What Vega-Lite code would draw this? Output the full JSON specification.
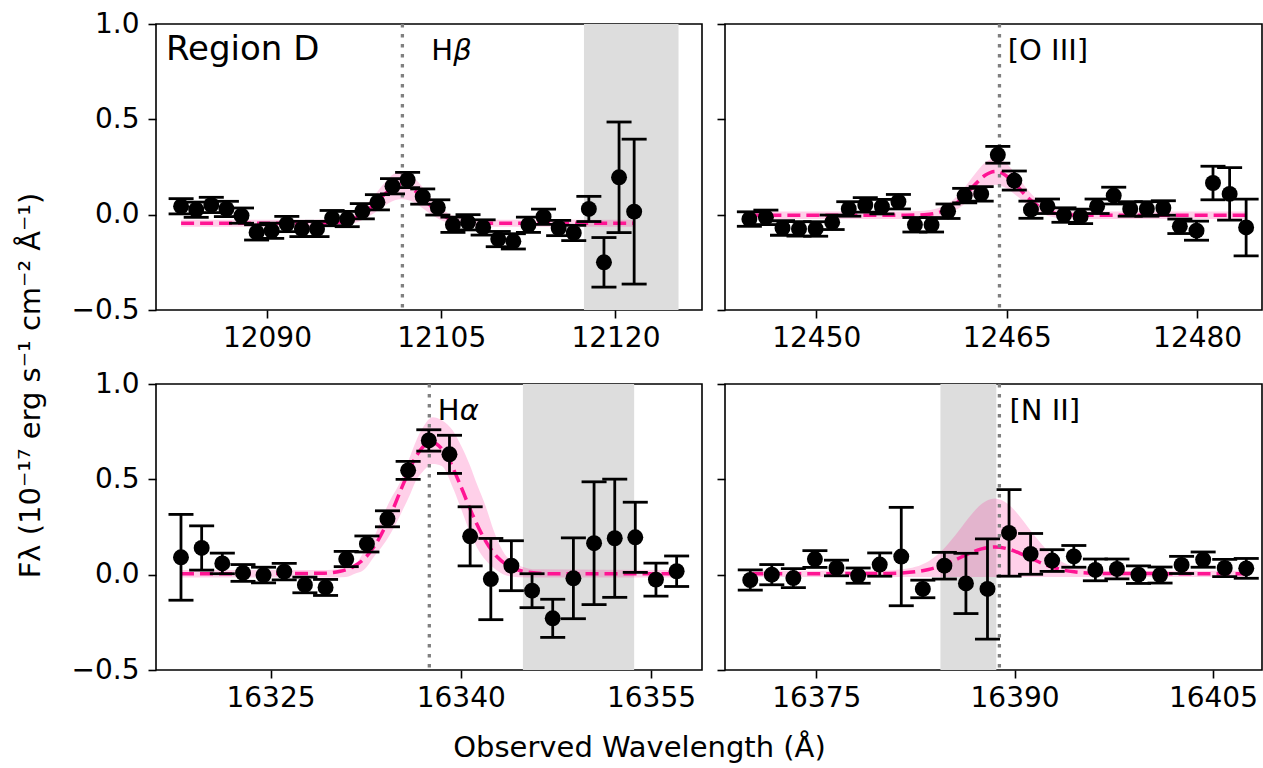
{
  "$schema": "https://vega.github.io/schema/vega-lite/v6.json",
  "background": "white",
  "padding": {"left": 15, "top": 9, "right": 0, "bottom": 0},
  "config": {
    "font": "DejaVu Sans",
    "view": {"stroke": "#000000", "strokeWidth": 1.6},
    "axis": {"grid": false, "domain": false, "ticks": true, "tickColor": "#000000", "tickWidth": 1.6, "tickSize": 8, "labelFont": "DejaVu Sans", "labelFontSize": 28, "labelColor": "#000000", "labelFlush": false, "labelOverlap": false, "titleFont": "DejaVu Sans", "titleFontSize": 29, "titleColor": "#000000", "titleFontWeight": "normal"},
    "axisX": {"labelPadding": 6},
    "axisY": {"labelPadding": 9}
  },
  "datasets": {
    "pts": [
      {"p":"hb","x":12082.61,"y":0.044,"lo":0.004,"hi":0.084},
      {"p":"hb","x":12083.91,"y":0.026,"lo":-0.014,"hi":0.066},
      {"p":"hb","x":12085.21,"y":0.051,"lo":0.011,"hi":0.091},
      {"p":"hb","x":12086.51,"y":0.030,"lo":-0.010,"hi":0.070},
      {"p":"hb","x":12087.81,"y":-0.005,"lo":-0.045,"hi":0.035},
      {"p":"hb","x":12089.11,"y":-0.093,"lo":-0.133,"hi":-0.053},
      {"p":"hb","x":12090.41,"y":-0.084,"lo":-0.124,"hi":-0.044},
      {"p":"hb","x":12091.71,"y":-0.049,"lo":-0.089,"hi":-0.009},
      {"p":"hb","x":12093.01,"y":-0.075,"lo":-0.115,"hi":-0.035},
      {"p":"hb","x":12094.31,"y":-0.075,"lo":-0.115,"hi":-0.035},
      {"p":"hb","x":12095.61,"y":-0.018,"lo":-0.058,"hi":0.022},
      {"p":"hb","x":12096.91,"y":-0.023,"lo":-0.063,"hi":0.017},
      {"p":"hb","x":12098.21,"y":0.018,"lo":-0.022,"hi":0.058},
      {"p":"hb","x":12099.51,"y":0.065,"lo":0.025,"hi":0.105},
      {"p":"hb","x":12100.81,"y":0.149,"lo":0.109,"hi":0.189},
      {"p":"hb","x":12102.11,"y":0.182,"lo":0.142,"hi":0.222},
      {"p":"hb","x":12103.41,"y":0.095,"lo":0.055,"hi":0.135},
      {"p":"hb","x":12104.71,"y":0.038,"lo":-0.002,"hi":0.078},
      {"p":"hb","x":12106.01,"y":-0.053,"lo":-0.093,"hi":-0.013},
      {"p":"hb","x":12107.31,"y":-0.040,"lo":-0.080,"hi":0.000},
      {"p":"hb","x":12108.61,"y":-0.067,"lo":-0.107,"hi":-0.027},
      {"p":"hb","x":12109.91,"y":-0.128,"lo":-0.168,"hi":-0.088},
      {"p":"hb","x":12111.21,"y":-0.140,"lo":-0.180,"hi":-0.100},
      {"p":"hb","x":12112.51,"y":-0.053,"lo":-0.093,"hi":-0.013},
      {"p":"hb","x":12113.81,"y":-0.011,"lo":-0.051,"hi":0.029},
      {"p":"hb","x":12115.11,"y":-0.070,"lo":-0.110,"hi":-0.030},
      {"p":"hb","x":12116.41,"y":-0.096,"lo":-0.136,"hi":-0.056},
      {"p":"hb","x":12117.71,"y":0.030,"lo":-0.036,"hi":0.096},
      {"p":"hb","x":12119.01,"y":-0.250,"lo":-0.380,"hi":-0.120},
      {"p":"hb","x":12120.31,"y":0.196,"lo":-0.094,"hi":0.486},
      {"p":"hb","x":12121.61,"y":0.016,"lo":-0.364,"hi":0.396},

      {"p":"o3","x":12444.73,"y":-0.023,"lo":-0.061,"hi":0.015},
      {"p":"o3","x":12446.03,"y":-0.014,"lo":-0.052,"hi":0.024},
      {"p":"o3","x":12447.34,"y":-0.070,"lo":-0.108,"hi":-0.032},
      {"p":"o3","x":12448.64,"y":-0.075,"lo":-0.113,"hi":-0.037},
      {"p":"o3","x":12449.95,"y":-0.075,"lo":-0.113,"hi":-0.037},
      {"p":"o3","x":12451.25,"y":-0.040,"lo":-0.078,"hi":-0.002},
      {"p":"o3","x":12452.56,"y":0.030,"lo":-0.008,"hi":0.068},
      {"p":"o3","x":12453.86,"y":0.051,"lo":0.013,"hi":0.089},
      {"p":"o3","x":12455.17,"y":0.042,"lo":0.004,"hi":0.080},
      {"p":"o3","x":12456.47,"y":0.068,"lo":0.030,"hi":0.106},
      {"p":"o3","x":12457.77,"y":-0.053,"lo":-0.091,"hi":-0.015},
      {"p":"o3","x":12459.08,"y":-0.053,"lo":-0.091,"hi":-0.015},
      {"p":"o3","x":12460.38,"y":0.018,"lo":-0.020,"hi":0.056},
      {"p":"o3","x":12461.69,"y":0.100,"lo":0.062,"hi":0.138},
      {"p":"o3","x":12462.99,"y":0.109,"lo":0.071,"hi":0.147},
      {"p":"o3","x":12464.30,"y":0.314,"lo":0.270,"hi":0.358},
      {"p":"o3","x":12465.60,"y":0.179,"lo":0.129,"hi":0.229},
      {"p":"o3","x":12466.91,"y":0.026,"lo":-0.019,"hi":0.071},
      {"p":"o3","x":12468.21,"y":0.044,"lo":0.006,"hi":0.082},
      {"p":"o3","x":12469.51,"y":-0.002,"lo":-0.040,"hi":0.036},
      {"p":"o3","x":12470.82,"y":-0.009,"lo":-0.047,"hi":0.029},
      {"p":"o3","x":12472.12,"y":0.044,"lo":0.006,"hi":0.082},
      {"p":"o3","x":12473.43,"y":0.100,"lo":0.056,"hi":0.144},
      {"p":"o3","x":12474.73,"y":0.030,"lo":-0.008,"hi":0.068},
      {"p":"o3","x":12476.04,"y":0.030,"lo":-0.008,"hi":0.068},
      {"p":"o3","x":12477.34,"y":0.035,"lo":-0.003,"hi":0.073},
      {"p":"o3","x":12478.64,"y":-0.061,"lo":-0.099,"hi":-0.023},
      {"p":"o3","x":12479.95,"y":-0.084,"lo":-0.134,"hi":-0.034},
      {"p":"o3","x":12481.25,"y":0.166,"lo":0.078,"hi":0.254},
      {"p":"o3","x":12482.56,"y":0.109,"lo":-0.029,"hi":0.247},
      {"p":"o3","x":12483.86,"y":-0.067,"lo":-0.216,"hi":0.082},

      {"p":"ha","x":16317.94,"y":0.091,"lo":-0.134,"hi":0.316},
      {"p":"ha","x":16319.57,"y":0.140,"lo":0.024,"hi":0.256},
      {"p":"ha","x":16321.20,"y":0.059,"lo":0.005,"hi":0.113},
      {"p":"ha","x":16322.83,"y":0.009,"lo":-0.035,"hi":0.053},
      {"p":"ha","x":16324.45,"y":-0.002,"lo":-0.043,"hi":0.039},
      {"p":"ha","x":16326.08,"y":0.016,"lo":-0.027,"hi":0.059},
      {"p":"ha","x":16327.71,"y":-0.054,"lo":-0.095,"hi":-0.013},
      {"p":"ha","x":16329.34,"y":-0.067,"lo":-0.109,"hi":-0.025},
      {"p":"ha","x":16330.97,"y":0.082,"lo":0.042,"hi":0.122},
      {"p":"ha","x":16332.60,"y":0.161,"lo":0.119,"hi":0.203},
      {"p":"ha","x":16334.22,"y":0.293,"lo":0.251,"hi":0.335},
      {"p":"ha","x":16335.85,"y":0.547,"lo":0.500,"hi":0.594},
      {"p":"ha","x":16337.48,"y":0.704,"lo":0.648,"hi":0.760},
      {"p":"ha","x":16339.11,"y":0.631,"lo":0.531,"hi":0.731},
      {"p":"ha","x":16340.74,"y":0.201,"lo":0.046,"hi":0.356},
      {"p":"ha","x":16342.37,"y":-0.023,"lo":-0.236,"hi":0.190},
      {"p":"ha","x":16343.99,"y":0.047,"lo":-0.084,"hi":0.178},
      {"p":"ha","x":16345.62,"y":-0.084,"lo":-0.173,"hi":0.005},
      {"p":"ha","x":16347.25,"y":-0.229,"lo":-0.329,"hi":-0.129},
      {"p":"ha","x":16348.88,"y":-0.019,"lo":-0.231,"hi":0.193},
      {"p":"ha","x":16350.51,"y":0.165,"lo":-0.157,"hi":0.487},
      {"p":"ha","x":16352.14,"y":0.191,"lo":-0.119,"hi":0.501},
      {"p":"ha","x":16353.76,"y":0.196,"lo":0.012,"hi":0.380},
      {"p":"ha","x":16355.39,"y":-0.026,"lo":-0.113,"hi":0.061},
      {"p":"ha","x":16357.02,"y":0.018,"lo":-0.062,"hi":0.098},

      {"p":"n2","x":16370.01,"y":-0.028,"lo":-0.081,"hi":0.025},
      {"p":"n2","x":16371.64,"y":0.000,"lo":-0.053,"hi":0.053},
      {"p":"n2","x":16373.27,"y":-0.018,"lo":-0.068,"hi":0.032},
      {"p":"n2","x":16374.90,"y":0.082,"lo":0.038,"hi":0.126},
      {"p":"n2","x":16376.53,"y":0.035,"lo":-0.006,"hi":0.076},
      {"p":"n2","x":16378.17,"y":-0.005,"lo":-0.045,"hi":0.035},
      {"p":"n2","x":16379.80,"y":0.053,"lo":-0.008,"hi":0.114},
      {"p":"n2","x":16381.43,"y":0.095,"lo":-0.163,"hi":0.353},
      {"p":"n2","x":16383.06,"y":-0.075,"lo":-0.121,"hi":-0.029},
      {"p":"n2","x":16384.69,"y":0.047,"lo":-0.023,"hi":0.117},
      {"p":"n2","x":16386.32,"y":-0.046,"lo":-0.204,"hi":0.112},
      {"p":"n2","x":16387.95,"y":-0.075,"lo":-0.338,"hi":0.188},
      {"p":"n2","x":16389.58,"y":0.219,"lo":-0.008,"hi":0.446},
      {"p":"n2","x":16391.21,"y":0.109,"lo":0.002,"hi":0.216},
      {"p":"n2","x":16392.84,"y":0.074,"lo":0.017,"hi":0.131},
      {"p":"n2","x":16394.48,"y":0.096,"lo":0.039,"hi":0.153},
      {"p":"n2","x":16396.11,"y":0.025,"lo":-0.032,"hi":0.082},
      {"p":"n2","x":16397.74,"y":0.030,"lo":-0.022,"hi":0.082},
      {"p":"n2","x":16399.37,"y":0.000,"lo":-0.046,"hi":0.046},
      {"p":"n2","x":16401.00,"y":-0.002,"lo":-0.044,"hi":0.040},
      {"p":"n2","x":16402.63,"y":0.051,"lo":0.006,"hi":0.096},
      {"p":"n2","x":16404.26,"y":0.079,"lo":0.039,"hi":0.119},
      {"p":"n2","x":16405.89,"y":0.035,"lo":-0.010,"hi":0.080},
      {"p":"n2","x":16407.52,"y":0.033,"lo":-0.019,"hi":0.085}
    ],
    "fit": [
      {"p":"hb","x":12082.61,"y":-0.045},
      {"p":"hb","x":12094,"y":-0.045},
      {"p":"hb","x":12096,"y":-0.041},
      {"p":"hb","x":12097,"y":-0.031},
      {"p":"hb","x":12098,"y":-0.005},
      {"p":"hb","x":12099,"y":0.041},
      {"p":"hb","x":12100,"y":0.100},
      {"p":"hb","x":12101,"y":0.146},
      {"p":"hb","x":12101.6,"y":0.155},
      {"p":"hb","x":12102.2,"y":0.146},
      {"p":"hb","x":12103,"y":0.112},
      {"p":"hb","x":12104,"y":0.052},
      {"p":"hb","x":12105,"y":0.002},
      {"p":"hb","x":12106,"y":-0.027},
      {"p":"hb","x":12107,"y":-0.040},
      {"p":"hb","x":12108,"y":-0.044},
      {"p":"hb","x":12110,"y":-0.045},
      {"p":"hb","x":12121.61,"y":-0.045},

      {"p":"o3","x":12444.73,"y":-0.003},
      {"p":"o3","x":12457,"y":-0.003},
      {"p":"o3","x":12458.5,"y":0.000},
      {"p":"o3","x":12459.5,"y":0.009},
      {"p":"o3","x":12460.5,"y":0.035},
      {"p":"o3","x":12461.5,"y":0.087},
      {"p":"o3","x":12462.5,"y":0.158},
      {"p":"o3","x":12463.3,"y":0.207},
      {"p":"o3","x":12464.1,"y":0.227},
      {"p":"o3","x":12464.9,"y":0.207},
      {"p":"o3","x":12465.7,"y":0.158},
      {"p":"o3","x":12466.7,"y":0.087},
      {"p":"o3","x":12467.7,"y":0.035},
      {"p":"o3","x":12468.7,"y":0.009},
      {"p":"o3","x":12469.7,"y":0.000},
      {"p":"o3","x":12471,"y":-0.003},
      {"p":"o3","x":12483.86,"y":-0.003},

      {"p":"ha","x":16317.94,"y":0.005},
      {"p":"ha","x":16329,"y":0.007},
      {"p":"ha","x":16330.5,"y":0.018},
      {"p":"ha","x":16331.5,"y":0.041},
      {"p":"ha","x":16332.5,"y":0.091},
      {"p":"ha","x":16333.5,"y":0.183},
      {"p":"ha","x":16334.5,"y":0.319},
      {"p":"ha","x":16335.5,"y":0.480},
      {"p":"ha","x":16336.5,"y":0.623},
      {"p":"ha","x":16337.7,"y":0.695},
      {"p":"ha","x":16338.9,"y":0.623},
      {"p":"ha","x":16339.9,"y":0.480},
      {"p":"ha","x":16340.9,"y":0.319},
      {"p":"ha","x":16341.9,"y":0.183},
      {"p":"ha","x":16342.9,"y":0.091},
      {"p":"ha","x":16343.9,"y":0.041},
      {"p":"ha","x":16344.9,"y":0.018},
      {"p":"ha","x":16345.9,"y":0.009},
      {"p":"ha","x":16347,"y":0.005},
      {"p":"ha","x":16357.02,"y":0.005},

      {"p":"n2","x":16370.01,"y":0.005},
      {"p":"n2","x":16380,"y":0.006},
      {"p":"n2","x":16381.5,"y":0.009},
      {"p":"n2","x":16382.5,"y":0.015},
      {"p":"n2","x":16383.5,"y":0.027},
      {"p":"n2","x":16384.5,"y":0.048},
      {"p":"n2","x":16385.5,"y":0.077},
      {"p":"n2","x":16386.5,"y":0.109},
      {"p":"n2","x":16387.5,"y":0.135},
      {"p":"n2","x":16388.5,"y":0.145},
      {"p":"n2","x":16389.5,"y":0.135},
      {"p":"n2","x":16390.5,"y":0.109},
      {"p":"n2","x":16391.5,"y":0.077},
      {"p":"n2","x":16392.5,"y":0.048},
      {"p":"n2","x":16393.5,"y":0.027},
      {"p":"n2","x":16394.5,"y":0.015},
      {"p":"n2","x":16395.5,"y":0.009},
      {"p":"n2","x":16397,"y":0.006},
      {"p":"n2","x":16407.52,"y":0.005}
    ],
    "env": [
      {"p":"hb","x":12082.61,"lo":-0.063,"hi":-0.027},
      {"p":"hb","x":12094,"lo":-0.063,"hi":-0.027},
      {"p":"hb","x":12096,"lo":-0.060,"hi":-0.022},
      {"p":"hb","x":12097,"lo":-0.053,"hi":-0.009},
      {"p":"hb","x":12098,"lo":-0.034,"hi":0.024},
      {"p":"hb","x":12099,"lo":-0.001,"hi":0.083},
      {"p":"hb","x":12100,"lo":0.042,"hi":0.158},
      {"p":"hb","x":12101,"lo":0.075,"hi":0.217},
      {"p":"hb","x":12101.6,"lo":0.082,"hi":0.228},
      {"p":"hb","x":12102.2,"lo":0.075,"hi":0.217},
      {"p":"hb","x":12103,"lo":0.051,"hi":0.173},
      {"p":"hb","x":12104,"lo":0.007,"hi":0.097},
      {"p":"hb","x":12105,"lo":-0.029,"hi":0.033},
      {"p":"hb","x":12106,"lo":-0.050,"hi":-0.004},
      {"p":"hb","x":12107,"lo":-0.059,"hi":-0.021},
      {"p":"hb","x":12108,"lo":-0.062,"hi":-0.026},
      {"p":"hb","x":12110,"lo":-0.063,"hi":-0.027},
      {"p":"hb","x":12121.61,"lo":-0.063,"hi":-0.027},

      {"p":"o3","x":12444.73,"lo":-0.023,"hi":0.017},
      {"p":"o3","x":12457,"lo":-0.023,"hi":0.017},
      {"p":"o3","x":12458.5,"lo":-0.021,"hi":0.021},
      {"p":"o3","x":12459.5,"lo":-0.014,"hi":0.032},
      {"p":"o3","x":12460.5,"lo":0.007,"hi":0.063},
      {"p":"o3","x":12461.5,"lo":0.047,"hi":0.127},
      {"p":"o3","x":12462.5,"lo":0.103,"hi":0.213},
      {"p":"o3","x":12463.3,"lo":0.141,"hi":0.273},
      {"p":"o3","x":12464.1,"lo":0.157,"hi":0.297},
      {"p":"o3","x":12464.9,"lo":0.141,"hi":0.273},
      {"p":"o3","x":12465.7,"lo":0.103,"hi":0.213},
      {"p":"o3","x":12466.7,"lo":0.047,"hi":0.127},
      {"p":"o3","x":12467.7,"lo":0.007,"hi":0.063},
      {"p":"o3","x":12468.7,"lo":-0.014,"hi":0.032},
      {"p":"o3","x":12469.7,"lo":-0.021,"hi":0.021},
      {"p":"o3","x":12471,"lo":-0.023,"hi":0.017},
      {"p":"o3","x":12483.86,"lo":-0.023,"hi":0.017},

      {"p":"ha","x":16317.94,"lo":-0.015,"hi":0.025},
      {"p":"ha","x":16329.5,"lo":-0.015,"hi":0.025},
      {"p":"ha","x":16330.95,"lo":-0.012,"hi":0.038},
      {"p":"ha","x":16331.74,"lo":0.007,"hi":0.060},
      {"p":"ha","x":16332.26,"lo":0.020,"hi":0.109},
      {"p":"ha","x":16333.32,"lo":0.109,"hi":0.220},
      {"p":"ha","x":16333.71,"lo":0.140,"hi":0.284},
      {"p":"ha","x":16334.5,"lo":0.220,"hi":0.400},
      {"p":"ha","x":16335.02,"lo":0.284,"hi":0.460},
      {"p":"ha","x":16335.28,"lo":0.320,"hi":0.494},
      {"p":"ha","x":16336.0,"lo":0.420,"hi":0.620},
      {"p":"ha","x":16336.47,"lo":0.494,"hi":0.700},
      {"p":"ha","x":16337.0,"lo":0.540,"hi":0.770},
      {"p":"ha","x":16337.78,"lo":0.580,"hi":0.826},
      {"p":"ha","x":16338.5,"lo":0.570,"hi":0.810},
      {"p":"ha","x":16339.36,"lo":0.459,"hi":0.757},
      {"p":"ha","x":16340.0,"lo":0.350,"hi":0.680},
      {"p":"ha","x":16340.67,"lo":0.231,"hi":0.582},
      {"p":"ha","x":16341.3,"lo":0.140,"hi":0.470},
      {"p":"ha","x":16341.99,"lo":0.074,"hi":0.354},
      {"p":"ha","x":16342.6,"lo":0.035,"hi":0.230},
      {"p":"ha","x":16343.3,"lo":0.004,"hi":0.126},
      {"p":"ha","x":16344.0,"lo":-0.010,"hi":0.070},
      {"p":"ha","x":16344.62,"lo":-0.013,"hi":0.047},
      {"p":"ha","x":16346.0,"lo":-0.015,"hi":0.028},
      {"p":"ha","x":16357.02,"lo":-0.015,"hi":0.025},

      {"p":"n2","x":16370.01,"lo":-0.012,"hi":0.020},
      {"p":"n2","x":16380,"lo":-0.012,"hi":0.021},
      {"p":"n2","x":16381.5,"lo":-0.012,"hi":0.028},
      {"p":"n2","x":16382.5,"lo":-0.012,"hi":0.041},
      {"p":"n2","x":16383.5,"lo":-0.012,"hi":0.071},
      {"p":"n2","x":16384.5,"lo":-0.012,"hi":0.126},
      {"p":"n2","x":16385.5,"lo":-0.012,"hi":0.205},
      {"p":"n2","x":16386.5,"lo":-0.012,"hi":0.296},
      {"p":"n2","x":16387.5,"lo":-0.012,"hi":0.371},
      {"p":"n2","x":16388.5,"lo":-0.012,"hi":0.400},
      {"p":"n2","x":16389.5,"lo":-0.012,"hi":0.371},
      {"p":"n2","x":16390.5,"lo":-0.012,"hi":0.296},
      {"p":"n2","x":16391.5,"lo":-0.012,"hi":0.205},
      {"p":"n2","x":16392.5,"lo":-0.012,"hi":0.126},
      {"p":"n2","x":16393.5,"lo":-0.012,"hi":0.071},
      {"p":"n2","x":16394.5,"lo":-0.012,"hi":0.041},
      {"p":"n2","x":16395.5,"lo":-0.012,"hi":0.028},
      {"p":"n2","x":16397,"lo":-0.012,"hi":0.021},
      {"p":"n2","x":16407.52,"lo":-0.012,"hi":0.020}
    ],
    "span": [
      {"p":"hb","x":12117.29,"x2":12125.43},
      {"p":"ha","x":16344.90,"x2":16353.67},
      {"p":"n2","x":16384.39,"x2":16388.62}
    ],
    "line": [
      {"p":"hb","x":12101.66},
      {"p":"o3","x":12464.43},
      {"p":"ha","x":16337.52},
      {"p":"n2","x":16388.85}
    ],
    "lab": [
      {"p":"hb","x":12104.15,"y":0.81,"t":"H","g":"β"},
      {"p":"o3","x":12465.08,"y":0.81,"t":"[O III]"},
      {"p":"ha","x":16338.18,"y":0.81,"t":"H","g":"α"},
      {"p":"n2","x":16389.61,"y":0.81,"t":"[N II]"}
    ],
    "reg": [
      {"p":"hb","x":12081.31,"y":0.81,"t":"Region D"}
    ]
  },
  "columns": 2,
  "spacing": {"row": 74, "column": 23},
  "bounds": "flush",
  "concat": [
    {
      "width": 546, "height": 286,
      "encoding": {"x": {"field": "x", "type": "quantitative", "scale": {"domain": [12080.45, 12127.45], "nice": false, "zero": false}, "axis": {"values": [12090, 12105, 12120], "format": "d", "title": null}}},
      "layer": [
        {"data": {"name": "span"}, "transform": [{"filter": "datum.p === 'hb'"}], "mark": {"type": "rect", "color": "#dddddd"}, "encoding": {"x2": {"field": "x2"}}},
        {"data": {"name": "env"}, "transform": [{"filter": "datum.p === 'hb'"}], "mark": {"type": "area", "color": "#ff1493", "opacity": 0.2, "interpolate": "monotone"}, "encoding": {"y": {"field": "lo", "type": "quantitative", "scale": {"domain": [-0.5, 1], "nice": false, "zero": false}, "axis": {"values": [-0.5, 0, 0.5, 1], "format": ".1f", "title": null}}, "y2": {"field": "hi"}}},
        {"data": {"name": "fit"}, "transform": [{"filter": "datum.p === 'hb'"}], "mark": {"type": "line", "color": "#ff1493", "strokeWidth": 3.5, "strokeDash": [13, 6], "interpolate": "monotone"}, "encoding": {"y": {"field": "y", "type": "quantitative", "scale": {"domain": [-0.5, 1], "nice": false, "zero": false}, "axis": {"values": [-0.5, 0, 0.5, 1], "format": ".1f", "title": null}}}},
        {"data": {"name": "line"}, "transform": [{"filter": "datum.p === 'hb'"}], "mark": {"type": "rule", "color": "#808080", "strokeWidth": 3.3, "strokeDash": [3.5, 6.5]}, "encoding": {}},
        {"data": {"name": "pts"}, "transform": [{"filter": "datum.p === 'hb'"}], "mark": {"type": "rule", "color": "#000000", "strokeWidth": 2.8}, "encoding": {"y": {"field": "lo", "type": "quantitative", "scale": {"domain": [-0.5, 1], "nice": false, "zero": false}, "axis": {"values": [-0.5, 0, 0.5, 1], "format": ".1f", "title": null}}, "y2": {"field": "hi"}}},
        {"data": {"name": "pts"}, "transform": [{"filter": "datum.p === 'hb'"}], "mark": {"type": "tick", "orient": "horizontal", "color": "#000000", "size": 25, "thickness": 2.8, "opacity": 1}, "encoding": {"y": {"field": "lo", "type": "quantitative", "scale": {"domain": [-0.5, 1], "nice": false, "zero": false}, "axis": {"values": [-0.5, 0, 0.5, 1], "format": ".1f", "title": null}}}},
        {"data": {"name": "pts"}, "transform": [{"filter": "datum.p === 'hb'"}], "mark": {"type": "tick", "orient": "horizontal", "color": "#000000", "size": 25, "thickness": 2.8, "opacity": 1}, "encoding": {"y": {"field": "hi", "type": "quantitative", "scale": {"domain": [-0.5, 1], "nice": false, "zero": false}, "axis": {"values": [-0.5, 0, 0.5, 1], "format": ".1f", "title": null}}}},
        {"data": {"name": "pts"}, "transform": [{"filter": "datum.p === 'hb'"}], "mark": {"type": "point", "filled": true, "color": "#000000", "size": 255, "opacity": 1}, "encoding": {"y": {"field": "y", "type": "quantitative", "scale": {"domain": [-0.5, 1], "nice": false, "zero": false}, "axis": {"values": [-0.5, 0, 0.5, 1], "format": ".1f", "title": null}}}},
        {"data": {"name": "lab"}, "transform": [{"filter": "datum.p === 'hb'"}], "mark": {"type": "text", "align": "left", "baseline": "alphabetic", "fontSize": 29, "color": "#000000"}, "encoding": {"y": {"field": "y", "type": "quantitative", "scale": {"domain": [-0.5, 1], "nice": false, "zero": false}, "axis": {"values": [-0.5, 0, 0.5, 1], "format": ".1f", "title": null}}, "text": {"field": "t"}}},
        {"data": {"name": "lab"}, "transform": [{"filter": "datum.p === 'hb'"}], "mark": {"type": "text", "align": "left", "baseline": "alphabetic", "fontSize": 29, "fontStyle": "italic", "dx": 22, "color": "#000000"}, "encoding": {"y": {"field": "y", "type": "quantitative", "scale": {"domain": [-0.5, 1], "nice": false, "zero": false}, "axis": {"values": [-0.5, 0, 0.5, 1], "format": ".1f", "title": null}}, "text": {"field": "g"}}},
        {"data": {"name": "reg"}, "mark": {"type": "text", "align": "left", "baseline": "alphabetic", "fontSize": 34, "color": "#000000"}, "encoding": {"y": {"field": "y", "type": "quantitative", "scale": {"domain": [-0.5, 1], "nice": false, "zero": false}, "axis": {"values": [-0.5, 0, 0.5, 1], "format": ".1f", "title": null}}, "text": {"field": "t"}}}
      ]
    },
    {
      "width": 537, "height": 286,
      "encoding": {"x": {"field": "x", "type": "quantitative", "scale": {"domain": [12442.81, 12485.11], "nice": false, "zero": false}, "axis": {"values": [12450, 12465, 12480], "format": "d", "title": null}}},
      "layer": [
        {"data": {"name": "env"}, "transform": [{"filter": "datum.p === 'o3'"}], "mark": {"type": "area", "color": "#ff1493", "opacity": 0.2, "interpolate": "monotone"}, "encoding": {"y": {"field": "lo", "type": "quantitative", "scale": {"domain": [-0.5, 1], "nice": false, "zero": false}, "axis": {"values": [-0.5, 0, 0.5, 1], "labels": false, "title": null}}, "y2": {"field": "hi"}}},
        {"data": {"name": "fit"}, "transform": [{"filter": "datum.p === 'o3'"}], "mark": {"type": "line", "color": "#ff1493", "strokeWidth": 3.5, "strokeDash": [13, 6], "interpolate": "monotone"}, "encoding": {"y": {"field": "y", "type": "quantitative", "scale": {"domain": [-0.5, 1], "nice": false, "zero": false}, "axis": {"values": [-0.5, 0, 0.5, 1], "labels": false, "title": null}}}},
        {"data": {"name": "line"}, "transform": [{"filter": "datum.p === 'o3'"}], "mark": {"type": "rule", "color": "#808080", "strokeWidth": 3.3, "strokeDash": [3.5, 6.5]}, "encoding": {}},
        {"data": {"name": "pts"}, "transform": [{"filter": "datum.p === 'o3'"}], "mark": {"type": "rule", "color": "#000000", "strokeWidth": 2.8}, "encoding": {"y": {"field": "lo", "type": "quantitative", "scale": {"domain": [-0.5, 1], "nice": false, "zero": false}, "axis": {"values": [-0.5, 0, 0.5, 1], "labels": false, "title": null}}, "y2": {"field": "hi"}}},
        {"data": {"name": "pts"}, "transform": [{"filter": "datum.p === 'o3'"}], "mark": {"type": "tick", "orient": "horizontal", "color": "#000000", "size": 25, "thickness": 2.8, "opacity": 1}, "encoding": {"y": {"field": "lo", "type": "quantitative", "scale": {"domain": [-0.5, 1], "nice": false, "zero": false}, "axis": {"values": [-0.5, 0, 0.5, 1], "labels": false, "title": null}}}},
        {"data": {"name": "pts"}, "transform": [{"filter": "datum.p === 'o3'"}], "mark": {"type": "tick", "orient": "horizontal", "color": "#000000", "size": 25, "thickness": 2.8, "opacity": 1}, "encoding": {"y": {"field": "hi", "type": "quantitative", "scale": {"domain": [-0.5, 1], "nice": false, "zero": false}, "axis": {"values": [-0.5, 0, 0.5, 1], "labels": false, "title": null}}}},
        {"data": {"name": "pts"}, "transform": [{"filter": "datum.p === 'o3'"}], "mark": {"type": "point", "filled": true, "color": "#000000", "size": 255, "opacity": 1}, "encoding": {"y": {"field": "y", "type": "quantitative", "scale": {"domain": [-0.5, 1], "nice": false, "zero": false}, "axis": {"values": [-0.5, 0, 0.5, 1], "labels": false, "title": null}}}},
        {"data": {"name": "lab"}, "transform": [{"filter": "datum.p === 'o3'"}], "mark": {"type": "text", "align": "left", "baseline": "alphabetic", "fontSize": 29, "color": "#000000"}, "encoding": {"y": {"field": "y", "type": "quantitative", "scale": {"domain": [-0.5, 1], "nice": false, "zero": false}, "axis": {"values": [-0.5, 0, 0.5, 1], "labels": false, "title": null}}, "text": {"field": "t"}}}
      ]
    },
    {
      "width": 546, "height": 286,
      "encoding": {"x": {"field": "x", "type": "quantitative", "scale": {"domain": [16315.97, 16359.02], "nice": false, "zero": false}, "axis": {"values": [16325, 16340, 16355], "format": "d", "title": "Observed Wavelength (Å)", "titleX": 483, "titleY": 86, "titleAlign": "center", "titleBaseline": "alphabetic"}}},
      "layer": [
        {"data": {"name": "span"}, "transform": [{"filter": "datum.p === 'ha'"}], "mark": {"type": "rect", "color": "#dddddd"}, "encoding": {"x2": {"field": "x2"}}},
        {"data": {"name": "env"}, "transform": [{"filter": "datum.p === 'ha'"}], "mark": {"type": "area", "color": "#ff1493", "opacity": 0.2, "interpolate": "monotone"}, "encoding": {"y": {"field": "lo", "type": "quantitative", "scale": {"domain": [-0.5, 1], "nice": false, "zero": false}, "axis": {"values": [-0.5, 0, 0.5, 1], "format": ".1f", "title": "Fλ (10⁻¹⁷ erg s⁻¹ cm⁻² Å⁻¹)", "titleX": -126, "titleY": 1, "titleAngle": -90, "titleAlign": "center", "titleBaseline": "middle"}}, "y2": {"field": "hi"}}},
        {"data": {"name": "fit"}, "transform": [{"filter": "datum.p === 'ha'"}], "mark": {"type": "line", "color": "#ff1493", "strokeWidth": 3.5, "strokeDash": [13, 6], "interpolate": "monotone"}, "encoding": {"y": {"field": "y", "type": "quantitative", "scale": {"domain": [-0.5, 1], "nice": false, "zero": false}, "axis": {"values": [-0.5, 0, 0.5, 1], "format": ".1f", "title": "Fλ (10⁻¹⁷ erg s⁻¹ cm⁻² Å⁻¹)", "titleX": -126, "titleY": 1, "titleAngle": -90, "titleAlign": "center", "titleBaseline": "middle"}}}},
        {"data": {"name": "line"}, "transform": [{"filter": "datum.p === 'ha'"}], "mark": {"type": "rule", "color": "#808080", "strokeWidth": 3.3, "strokeDash": [3.5, 6.5]}, "encoding": {}},
        {"data": {"name": "pts"}, "transform": [{"filter": "datum.p === 'ha'"}], "mark": {"type": "rule", "color": "#000000", "strokeWidth": 2.8}, "encoding": {"y": {"field": "lo", "type": "quantitative", "scale": {"domain": [-0.5, 1], "nice": false, "zero": false}, "axis": {"values": [-0.5, 0, 0.5, 1], "format": ".1f", "title": "Fλ (10⁻¹⁷ erg s⁻¹ cm⁻² Å⁻¹)", "titleX": -126, "titleY": 1, "titleAngle": -90, "titleAlign": "center", "titleBaseline": "middle"}}, "y2": {"field": "hi"}}},
        {"data": {"name": "pts"}, "transform": [{"filter": "datum.p === 'ha'"}], "mark": {"type": "tick", "orient": "horizontal", "color": "#000000", "size": 25, "thickness": 2.8, "opacity": 1}, "encoding": {"y": {"field": "lo", "type": "quantitative", "scale": {"domain": [-0.5, 1], "nice": false, "zero": false}, "axis": {"values": [-0.5, 0, 0.5, 1], "format": ".1f", "title": "Fλ (10⁻¹⁷ erg s⁻¹ cm⁻² Å⁻¹)", "titleX": -126, "titleY": 1, "titleAngle": -90, "titleAlign": "center", "titleBaseline": "middle"}}}},
        {"data": {"name": "pts"}, "transform": [{"filter": "datum.p === 'ha'"}], "mark": {"type": "tick", "orient": "horizontal", "color": "#000000", "size": 25, "thickness": 2.8, "opacity": 1}, "encoding": {"y": {"field": "hi", "type": "quantitative", "scale": {"domain": [-0.5, 1], "nice": false, "zero": false}, "axis": {"values": [-0.5, 0, 0.5, 1], "format": ".1f", "title": "Fλ (10⁻¹⁷ erg s⁻¹ cm⁻² Å⁻¹)", "titleX": -126, "titleY": 1, "titleAngle": -90, "titleAlign": "center", "titleBaseline": "middle"}}}},
        {"data": {"name": "pts"}, "transform": [{"filter": "datum.p === 'ha'"}], "mark": {"type": "point", "filled": true, "color": "#000000", "size": 255, "opacity": 1}, "encoding": {"y": {"field": "y", "type": "quantitative", "scale": {"domain": [-0.5, 1], "nice": false, "zero": false}, "axis": {"values": [-0.5, 0, 0.5, 1], "format": ".1f", "title": "Fλ (10⁻¹⁷ erg s⁻¹ cm⁻² Å⁻¹)", "titleX": -126, "titleY": 1, "titleAngle": -90, "titleAlign": "center", "titleBaseline": "middle"}}}},
        {"data": {"name": "lab"}, "transform": [{"filter": "datum.p === 'ha'"}], "mark": {"type": "text", "align": "left", "baseline": "alphabetic", "fontSize": 29, "color": "#000000"}, "encoding": {"y": {"field": "y", "type": "quantitative", "scale": {"domain": [-0.5, 1], "nice": false, "zero": false}, "axis": {"values": [-0.5, 0, 0.5, 1], "format": ".1f", "title": "Fλ (10⁻¹⁷ erg s⁻¹ cm⁻² Å⁻¹)", "titleX": -126, "titleY": 1, "titleAngle": -90, "titleAlign": "center", "titleBaseline": "middle"}}, "text": {"field": "t"}}},
        {"data": {"name": "lab"}, "transform": [{"filter": "datum.p === 'ha'"}], "mark": {"type": "text", "align": "left", "baseline": "alphabetic", "fontSize": 29, "fontStyle": "italic", "dx": 22, "color": "#000000"}, "encoding": {"y": {"field": "y", "type": "quantitative", "scale": {"domain": [-0.5, 1], "nice": false, "zero": false}, "axis": {"values": [-0.5, 0, 0.5, 1], "format": ".1f", "title": "Fλ (10⁻¹⁷ erg s⁻¹ cm⁻² Å⁻¹)", "titleX": -126, "titleY": 1, "titleAngle": -90, "titleAlign": "center", "titleBaseline": "middle"}}, "text": {"field": "g"}}}
      ]
    },
    {
      "width": 537, "height": 286,
      "encoding": {"x": {"field": "x", "type": "quantitative", "scale": {"domain": [16368.1, 16408.71], "nice": false, "zero": false}, "axis": {"values": [16375, 16390, 16405], "format": "d", "title": null}}},
      "layer": [
        {"data": {"name": "span"}, "transform": [{"filter": "datum.p === 'n2'"}], "mark": {"type": "rect", "color": "#dddddd"}, "encoding": {"x2": {"field": "x2"}}},
        {"data": {"name": "env"}, "transform": [{"filter": "datum.p === 'n2'"}], "mark": {"type": "area", "color": "#ff1493", "opacity": 0.2, "interpolate": "monotone"}, "encoding": {"y": {"field": "lo", "type": "quantitative", "scale": {"domain": [-0.5, 1], "nice": false, "zero": false}, "axis": {"values": [-0.5, 0, 0.5, 1], "labels": false, "title": null}}, "y2": {"field": "hi"}}},
        {"data": {"name": "fit"}, "transform": [{"filter": "datum.p === 'n2'"}], "mark": {"type": "line", "color": "#ff1493", "strokeWidth": 3.5, "strokeDash": [13, 6], "interpolate": "monotone"}, "encoding": {"y": {"field": "y", "type": "quantitative", "scale": {"domain": [-0.5, 1], "nice": false, "zero": false}, "axis": {"values": [-0.5, 0, 0.5, 1], "labels": false, "title": null}}}},
        {"data": {"name": "line"}, "transform": [{"filter": "datum.p === 'n2'"}], "mark": {"type": "rule", "color": "#808080", "strokeWidth": 3.3, "strokeDash": [3.5, 6.5]}, "encoding": {}},
        {"data": {"name": "pts"}, "transform": [{"filter": "datum.p === 'n2'"}], "mark": {"type": "rule", "color": "#000000", "strokeWidth": 2.8}, "encoding": {"y": {"field": "lo", "type": "quantitative", "scale": {"domain": [-0.5, 1], "nice": false, "zero": false}, "axis": {"values": [-0.5, 0, 0.5, 1], "labels": false, "title": null}}, "y2": {"field": "hi"}}},
        {"data": {"name": "pts"}, "transform": [{"filter": "datum.p === 'n2'"}], "mark": {"type": "tick", "orient": "horizontal", "color": "#000000", "size": 25, "thickness": 2.8, "opacity": 1}, "encoding": {"y": {"field": "lo", "type": "quantitative", "scale": {"domain": [-0.5, 1], "nice": false, "zero": false}, "axis": {"values": [-0.5, 0, 0.5, 1], "labels": false, "title": null}}}},
        {"data": {"name": "pts"}, "transform": [{"filter": "datum.p === 'n2'"}], "mark": {"type": "tick", "orient": "horizontal", "color": "#000000", "size": 25, "thickness": 2.8, "opacity": 1}, "encoding": {"y": {"field": "hi", "type": "quantitative", "scale": {"domain": [-0.5, 1], "nice": false, "zero": false}, "axis": {"values": [-0.5, 0, 0.5, 1], "labels": false, "title": null}}}},
        {"data": {"name": "pts"}, "transform": [{"filter": "datum.p === 'n2'"}], "mark": {"type": "point", "filled": true, "color": "#000000", "size": 255, "opacity": 1}, "encoding": {"y": {"field": "y", "type": "quantitative", "scale": {"domain": [-0.5, 1], "nice": false, "zero": false}, "axis": {"values": [-0.5, 0, 0.5, 1], "labels": false, "title": null}}}},
        {"data": {"name": "lab"}, "transform": [{"filter": "datum.p === 'n2'"}], "mark": {"type": "text", "align": "left", "baseline": "alphabetic", "fontSize": 29, "color": "#000000"}, "encoding": {"y": {"field": "y", "type": "quantitative", "scale": {"domain": [-0.5, 1], "nice": false, "zero": false}, "axis": {"values": [-0.5, 0, 0.5, 1], "labels": false, "title": null}}, "text": {"field": "t"}}}
      ]
    }
  ]
}
